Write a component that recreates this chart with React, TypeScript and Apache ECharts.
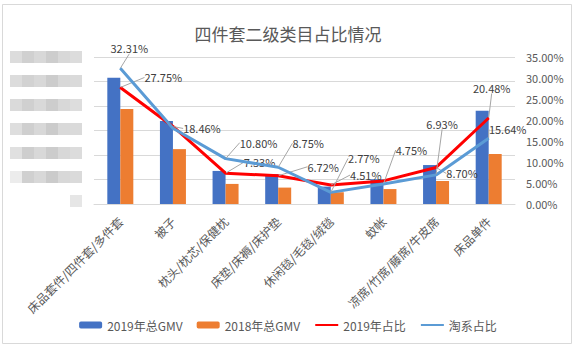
import React, { useEffect, useRef } from "react";
import * as echarts from "echarts";

const categories = [
  "床品套件/四件套/多件套",
  "被子",
  "枕头/枕芯/保健枕",
  "床垫/床褥/床护垫",
  "休闲毯/毛毯/绒毯",
  "蚊帐",
  "凉席/竹席/藤席/牛皮席",
  "床品单件",
];
// left axis values (axis labels are blurred in the reference; arbitrary units)
const gmv2019 = [515, 339, 135, 122, 71, 101, 159, 381];
const gmv2018 = [388, 224, 82, 67, 48, 61, 94, 204];
// right axis, percent
const share2019 = [27.75, 18.46, 7.33, 6.72, 4.51, 5.5, 8.7, 20.48];
const shareTaoxi = [32.31, 18.05, 10.8, 8.75, 2.77, 4.75, 6.93, 15.64];
const hidden2019 = [5];
const hiddenTaoxi = [1];

const legendNames = ["2019年总GMV", "2018年总GMV", "2019年占比", "淘系占比"];

// label offsets (style) relative to the default "top" label position
const off2019: [number, number][] = [
  [43, 1], [29, 13], [34, 0], [45, 2], [35, 1], [0, 0], [26, 17], [3, -19],
];
const offTaoxi: [number, number][] = [
  [9, -9], [0, 0], [33, -5], [30, -13], [33, -23], [28, -23], [6, -40], [19, 2],
];

const FONT = "Noto Sans CJK SC";

export default function App() {
  const ref = useRef<HTMLDivElement>(null);
  useEffect(() => {
    if (!ref.current) return;
    const chart = echarts.init(ref.current, undefined, { renderer: "svg" });

    const blurShades = [
      ["#dcdcdc", "#d0d0d0", "#d8d8d8", "#cdcdcd", "#d8d8d8", "#dcdcdc"],
      ["#dcdcdc", "#d2d2d2", "#d8d8d8", "#cccccc", "#d8d8d8", "#dadada"],
      ["#dadada", "#d0d0d0", "#d9d9d9", "#cdcdcd", "#d8d8d8", "#dddddd"],
      ["#dedede", "#cfcfcf", "#d8d8d8", "#cbcbcb", "#d9d9d9", "#dadada"],
      ["#e0e0e0", "#cecece", "#d8d8d8", "#cccccc", "#d8d8d8", "#dcdcdc"],
      ["#ececec", "#d0d0d0", "#d8d8d8", "#cbcbcb", "#d8d8d8", "#dadada"],
    ];
    const rowY = [51, 75, 99, 123, 147, 171];
    const blur: any[] = [];
    rowY.forEach((y, r) => {
      blurShades[r].forEach((c, k) => {
        blur.push({
          type: "rect",
          shape: { x: 10 + k * 12, y, width: 12, height: 12 },
          style: { fill: c },
          silent: true,
        });
      });
    });
    blur.push({
      type: "rect",
      shape: { x: 70, y: 195, width: 12, height: 12 },
      style: { fill: "#e6e6e6" },
      silent: true,
    });

    const mkLabel = (arr: number[], hidden: number[]) =>
      arr.map((v, i) => ({
        value: v,
        label: { show: !hidden.includes(i) },
      }));

    const layoutFor = (offs: [number, number][]) => (p: any) => ({
      dx: offs[p.dataIndex][0],
      dy: offs[p.dataIndex][1],
    });

    chart.setOption({
      animation: false,
      textStyle: { fontFamily: FONT },
      title: {
        text: "四件套二级类目占比情况",
        left: "center",
        top: 20,
        textStyle: {
          fontSize: 17,
          fontWeight: "normal",
          color: "#595959",
          fontFamily: FONT,
        },
      },
      legend: {
        data: [
          { name: legendNames[0] },
          { name: legendNames[1] },
          { name: legendNames[2], itemStyle: { opacity: 0 } },
          { name: legendNames[3], itemStyle: { opacity: 0 } },
        ],
        bottom: 12,
        left: "center",
        itemWidth: 23,
        itemHeight: 7,
        itemGap: 14,
        textStyle: { fontSize: 12, color: "#595959", fontFamily: FONT },
      },
      grid: { left: 94, right: 61, top: 57, bottom: 144 },
      xAxis: {
        type: "category",
        data: categories,
        axisLine: { lineStyle: { color: "#d9d9d9" } },
        axisTick: { show: false },
        axisLabel: {
          rotate: 45,
          interval: 0,
          margin: 15,
          fontSize: 12,
          color: "#595959",
          fontFamily: FONT,
        },
      },
      yAxis: [
        {
          type: "value",
          min: 0,
          max: 600,
          interval: 100,
          axisLabel: { show: false },
          axisLine: { show: false },
          axisTick: { show: false },
          splitLine: { lineStyle: { color: "#d9d9d9" } },
        },
        {
          type: "value",
          min: 0,
          max: 35,
          interval: 5,
          position: "right",
          axisLabel: {
            formatter: (v: number) => v.toFixed(2) + "%",
            fontSize: 11,
            color: "#595959",
            margin: 11,
            fontFamily: FONT,
          },
          axisLine: { show: false },
          axisTick: { show: false },
          splitLine: { show: false },
        },
      ],
      graphic: [
        {
          type: "rect",
          shape: { x: 2.5, y: 4.5, width: 569, height: 339 },
          style: { fill: "none", stroke: "#d9d9d9", lineWidth: 1 },
          silent: true,
          z: -1,
        },
        ...blur,
      ],
      series: [
        {
          name: legendNames[0],
          type: "bar",
          data: gmv2019,
          barWidth: 13,
          barGap: "0%",
          itemStyle: { color: "#4472C4" },
        },
        {
          name: legendNames[1],
          type: "bar",
          data: gmv2018,
          barWidth: 13,
          barGap: "0%",
          itemStyle: { color: "#ED7D31" },
        },
        {
          name: legendNames[2],
          type: "line",
          yAxisIndex: 1,
          data: mkLabel(share2019, hidden2019),
          symbol: "circle",
          symbolSize: 1,
          lineStyle: { color: "#FF0000", width: 3 },
          itemStyle: { color: "#FF0000" },
          label: {
            show: true,
            position: "top",
            formatter: (p: any) => p.value.toFixed(2) + "%",
            fontSize: 11,
            color: "#404040",
            fontFamily: FONT,
          },
          labelLayout: layoutFor(off2019),
          labelLine: {
            show: true,
            lineStyle: { color: "#a6a6a6", width: 1 },
          },
          z: 3,
        },
        {
          name: legendNames[3],
          type: "line",
          yAxisIndex: 1,
          data: mkLabel(shareTaoxi, hiddenTaoxi),
          symbol: "circle",
          symbolSize: 1,
          lineStyle: { color: "#5B9BD5", width: 3 },
          itemStyle: { color: "#5B9BD5" },
          label: {
            show: true,
            position: "top",
            formatter: (p: any) => p.value.toFixed(2) + "%",
            fontSize: 11,
            color: "#404040",
            fontFamily: FONT,
          },
          labelLayout: layoutFor(offTaoxi),
          labelLine: {
            show: true,
            lineStyle: { color: "#a6a6a6", width: 1 },
          },
          z: 4,
        },
      ],
    });
    return () => chart.dispose();
  }, []);

  return (
    <div
      ref={ref}
      style={{
        position: "fixed",
        left: 0,
        top: 0,
        width: 576,
        height: 348,
        background: "#ffffff",
      }}
    />
  );
}
